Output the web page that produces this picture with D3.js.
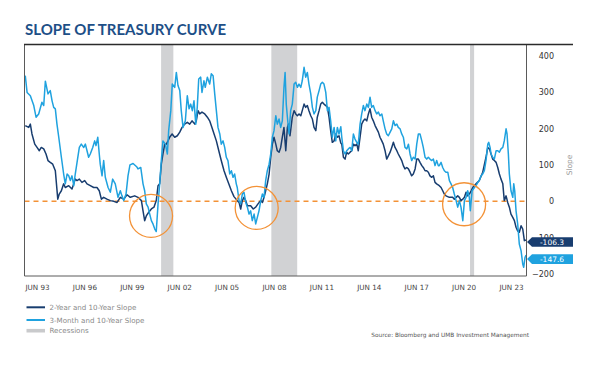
<!DOCTYPE html>
<html><head><meta charset="utf-8">
<script src="https://cdn.jsdelivr.net/npm/d3@7"></script>
<style>body{margin:0;background:#fff}svg{display:block}</style>
</head><body>
<svg id="chart" width="600" height="367"></svg>
<script>
const title = "SLOPE OF TREASURY CURVE";
const xTickLabels = ["JUN 93","JUN 96","JUN 99","JUN 02","JUN 05","JUN 08","JUN 11","JUN 14","JUN 17","JUN 20","JUN 23"];
const yTicks = [-200,-100,0,100,200,300,400];
const yAxisTitle = "Slope";
const seriesNames = ["2-Year and 10-Year Slope","3-Month and 10-Year Slope"];
const recessionLabel = "Recessions";
const recessionStarts = ["2001-03","2007-12","2020-02"];
const recessionEnds = ["2001-11","2009-06","2020-04"];
const sourceText = "Source: Bloomberg and UMB Investment Management";

// 2-Year and 10-Year slope (bps), dates as decimal years
const years2y10y = [1992.85,1993.06,1993.16,1993.26,1993.43,1993.57,1993.71,1993.83,1993.98,1994.12,1994.24,1994.38,1994.53,1994.69,1994.84,1994.93,1995.06,1995.20,1995.30,1995.51,1995.71,1995.91,1996.02,1996.16,1996.32,1996.49,1996.63,1996.83,1997.04,1997.24,1997.38,1997.51,1997.65,1997.85,1998.06,1998.27,1998.47,1998.67,1998.88,1999.08,1999.28,1999.55,1999.75,1999.96,2000.06,2000.16,2000.26,2000.41,2000.57,2000.73,2000.87,2000.98,2001.08,2001.18,2001.28,2001.39,2001.49,2001.59,2001.69,2001.84,2002.00,2002.16,2002.31,2002.45,2002.61,2002.77,2002.92,2003.06,2003.23,2003.32,2003.43,2003.53,2003.67,2003.84,2004.00,2004.14,2004.28,2004.41,2004.55,2004.70,2004.85,2005.02,2005.16,2005.31,2005.47,2005.63,2005.83,2005.94,2006.04,2006.14,2006.24,2006.35,2006.45,2006.65,2006.81,2006.96,2007.10,2007.27,2007.37,2007.47,2007.57,2007.67,2007.78,2007.88,2007.98,2008.08,2008.19,2008.28,2008.39,2008.49,2008.59,2008.69,2008.80,2008.90,2008.96,2009.06,2009.20,2009.31,2009.41,2009.51,2009.61,2009.72,2009.81,2009.92,2010.02,2010.12,2010.22,2010.33,2010.43,2010.53,2010.64,2010.73,2010.84,2010.94,2011.04,2011.14,2011.25,2011.35,2011.45,2011.55,2011.65,2011.76,2011.86,2011.96,2012.06,2012.17,2012.23,2012.33,2012.43,2012.53,2012.63,2012.74,2012.84,2012.94,2013.04,2013.15,2013.24,2013.35,2013.45,2013.55,2013.65,2013.76,2013.86,2013.96,2014.06,2014.16,2014.27,2014.37,2014.47,2014.57,2014.68,2014.77,2014.88,2014.98,2015.08,2015.19,2015.29,2015.39,2015.49,2015.60,2015.69,2015.80,2015.90,2016.00,2016.10,2016.21,2016.31,2016.41,2016.51,2016.61,2016.72,2016.82,2016.92,2017.02,2017.13,2017.22,2017.33,2017.43,2017.53,2017.63,2017.74,2017.84,2017.94,2018.04,2018.20,2018.31,2018.41,2018.51,2018.61,2018.82,2019.02,2019.12,2019.23,2019.33,2019.43,2019.53,2019.64,2019.74,2019.84,2019.94,2020.04,2020.15,2020.25,2020.45,2020.65,2020.86,2021.06,2021.17,2021.27,2021.37,2021.47,2021.57,2021.68,2021.78,2021.88,2021.98,2022.09,2022.18,2022.29,2022.39,2022.49,2022.59,2022.70,2022.80,2022.90,2023.00,2023.10,2023.21,2023.31,2023.41,2023.51];
const slope2y10y = [208,203,212,185,157,148,139,148,144,130,112,107,102,84,6,20,29,48,38,43,34,61,57,61,52,57,48,43,38,38,29,6,11,6,2,0,-3,11,6,18,11,15,11,2,-26,-53,-40,-30,-21,-16,2,43,48,102,130,157,157,166,176,185,176,180,190,203,212,217,212,221,212,221,249,240,245,240,231,221,203,185,166,139,112,84,66,48,29,13,2,-3,-21,2,11,2,-12,-12,-21,-16,-7,2,-3,11,29,48,75,121,157,176,157,139,135,148,176,203,139,203,212,180,231,249,240,235,240,235,249,267,258,263,249,235,226,203,194,231,249,267,272,267,263,258,231,194,162,166,185,176,180,160,157,121,116,135,130,135,139,157,153,157,139,176,212,221,226,221,240,254,231,221,208,199,190,176,166,157,139,116,125,135,148,162,148,139,130,121,112,98,89,93,89,80,70,75,89,116,116,107,98,93,84,84,80,70,66,70,52,48,43,38,29,20,15,11,11,6,11,15,11,2,6,11,25,15,20,29,38,48,57,80,121,148,144,130,116,112,107,93,75,61,48,2,15,-3,-16,-35,-44,-53,-71,-81,-85,-67,-76,-108,-106.3];

// 3-Month and 10-Year slope (bps)
const years3m10y = [1992.85,1992.96,1993.16,1993.37,1993.51,1993.67,1993.87,1993.98,1994.08,1994.24,1994.38,1994.49,1994.59,1994.69,1994.79,1994.90,1995.06,1995.20,1995.30,1995.41,1995.51,1995.61,1995.71,1995.82,1995.91,1996.02,1996.16,1996.28,1996.43,1996.53,1996.63,1996.73,1996.83,1996.98,1997.10,1997.18,1997.29,1997.38,1997.44,1997.55,1997.65,1997.75,1997.92,1998.06,1998.20,1998.36,1998.53,1998.67,1998.77,1998.88,1999.02,1999.14,1999.26,1999.45,1999.67,1999.75,1999.92,2000.06,2000.16,2000.26,2000.37,2000.47,2000.57,2000.67,2000.78,2000.87,2000.98,2001.08,2001.18,2001.28,2001.43,2001.55,2001.63,2001.76,2001.85,2002.00,2002.10,2002.20,2002.31,2002.40,2002.51,2002.65,2002.77,2002.88,2002.98,2003.08,2003.18,2003.29,2003.38,2003.47,2003.59,2003.67,2003.79,2003.87,2004.00,2004.14,2004.24,2004.35,2004.45,2004.55,2004.65,2004.76,2004.85,2004.96,2005.06,2005.16,2005.26,2005.37,2005.47,2005.57,2005.67,2005.77,2005.83,2005.94,2006.04,2006.14,2006.24,2006.35,2006.45,2006.55,2006.65,2006.75,2006.86,2006.96,2007.06,2007.16,2007.27,2007.37,2007.47,2007.57,2007.67,2007.78,2007.88,2007.98,2008.08,2008.19,2008.28,2008.39,2008.49,2008.59,2008.69,2008.76,2008.83,2008.90,2009.00,2009.10,2009.20,2009.31,2009.41,2009.51,2009.61,2009.72,2009.81,2009.92,2010.02,2010.12,2010.22,2010.33,2010.43,2010.53,2010.64,2010.73,2010.84,2010.94,2011.04,2011.14,2011.25,2011.35,2011.45,2011.55,2011.65,2011.76,2011.86,2011.96,2012.06,2012.17,2012.23,2012.33,2012.43,2012.53,2012.63,2012.74,2012.84,2012.94,2013.04,2013.15,2013.24,2013.35,2013.45,2013.55,2013.65,2013.76,2013.86,2013.96,2014.06,2014.16,2014.27,2014.37,2014.47,2014.57,2014.68,2014.77,2014.88,2014.98,2015.08,2015.19,2015.29,2015.39,2015.49,2015.60,2015.69,2015.80,2015.90,2016.00,2016.10,2016.21,2016.31,2016.41,2016.51,2016.61,2016.72,2016.82,2016.92,2017.02,2017.13,2017.22,2017.33,2017.43,2017.53,2017.63,2017.74,2017.84,2017.94,2018.04,2018.14,2018.20,2018.31,2018.41,2018.51,2018.61,2018.72,2018.82,2018.92,2019.02,2019.12,2019.23,2019.33,2019.43,2019.53,2019.64,2019.74,2019.84,2019.94,2020.04,2020.10,2020.21,2020.35,2020.45,2020.56,2020.65,2020.76,2020.86,2020.96,2021.06,2021.17,2021.23,2021.31,2021.37,2021.47,2021.57,2021.68,2021.78,2021.88,2021.98,2022.09,2022.18,2022.29,2022.35,2022.43,2022.49,2022.59,2022.70,2022.76,2022.82,2022.90,2023.00,2023.10,2023.21,2023.31,2023.37,2023.45,2023.51];
const slope3m10y = [345,299,290,263,231,240,272,263,330,295,304,276,258,254,212,176,121,75,48,75,70,57,70,43,75,107,148,157,148,157,139,121,130,148,166,153,176,130,102,70,112,66,38,25,61,48,11,29,15,2,20,70,100,104,95,89,93,48,29,-7,-16,-35,-53,-62,-76,-83,-7,48,112,166,157,130,194,249,322,313,354,318,304,249,203,221,290,254,267,249,276,212,258,336,341,299,331,313,341,322,350,345,295,249,203,185,157,166,148,121,112,75,84,66,75,48,38,2,-7,20,25,-3,-16,-35,-26,-53,-35,-62,-44,-26,2,20,11,57,84,102,130,176,194,235,212,226,203,221,313,354,267,231,185,249,267,322,327,313,322,313,331,368,341,354,322,295,258,240,249,286,304,322,327,322,299,249,258,221,176,203,166,203,185,205,176,139,130,139,144,148,139,185,171,162,157,212,240,263,249,267,258,286,258,263,249,240,245,235,240,221,199,185,180,190,199,221,208,212,203,199,185,176,148,144,157,130,112,121,116,157,185,185,166,148,121,116,121,116,112,116,98,112,98,98,107,93,84,80,80,57,48,38,20,2,-16,2,-16,-53,2,11,29,11,-26,29,38,43,52,57,70,75,84,112,157,162,148,130,121,116,139,139,135,144,148,166,199,185,130,75,29,11,48,29,-26,-62,-117,-136,-172,-181,-154,-147.6];

const lastValues = [-106.3, -147.6];
const highlightYears = [2000.55, 2007.02, 2019.72];
const highlightValues = [-40, -18, -8];

const colors = {dark:"#183d6f", light:"#1fa2df", rec:"#d1d2d4", orange:"#f39237", title:"#1d4f87"};

const svg = d3.select("#chart");
const plotL = 24.5, plotR = 526.5, plotT = 44, plotB = 276;
const x = d3.scaleLinear().domain([1992.833, 2023.51]).range([25, 526]);
const y = d3.scaleLinear().domain([-205, 432]).range([plotB, plotT]);
const monthToYear = m => +m.slice(0,4) + (+m.slice(5,7) - 1) / 12;

// title
svg.append("text").attr("x", 25).attr("y", 35).text(title)
  .attr("font-family","Lato").attr("font-weight",700).attr("font-size",15).attr("fill",colors.title);

// recessions
svg.append("g").selectAll("rect").data(recessionStarts).join("rect")
  .attr("x", (d) => x(monthToYear(d)))
  .attr("width", (d,i) => x(monthToYear(recessionEnds[i]) + 1/12) - x(monthToYear(d)))
  .attr("y", plotT).attr("height", plotB - plotT).attr("fill", colors.rec);

// zero dashed line
svg.append("line").attr("x1", plotL).attr("x2", plotR).attr("y1", y(0)).attr("y2", y(0))
  .attr("stroke", colors.orange).attr("stroke-width", 1.5).attr("stroke-dasharray","5,4");

// lines
const line = d3.line().x(d => x(d[0])).y(d => y(d[1]));
const s1 = years2y10y.map((t,i) => [t, slope2y10y[i]]);
const s2 = years3m10y.map((t,i) => [t, slope3m10y[i]]);
svg.append("path").datum(s1).attr("d", line).attr("fill","none").attr("stroke",colors.dark).attr("stroke-width",1.5).attr("stroke-linejoin","round");
svg.append("path").datum(s2).attr("d", line).attr("fill","none").attr("stroke",colors.light).attr("stroke-width",1.5).attr("stroke-linejoin","round");

// highlight circles
svg.append("g").selectAll("circle").data(highlightYears).join("circle")
  .attr("cx", d => x(d)).attr("cy", (d,i) => y(highlightValues[i])).attr("r", 21.5)
  .attr("fill","none").attr("stroke", colors.orange).attr("stroke-width", 1.3);

// frame
const frame = svg.append("g").attr("stroke","#5a5a5a").attr("stroke-width",1);
frame.append("line").attr("x1",plotL).attr("x2",plotL).attr("y1",plotT).attr("y2",plotB);
frame.append("line").attr("x1",plotL).attr("x2",plotR).attr("y1",plotB).attr("y2",plotB);
frame.append("line").attr("x1",plotR).attr("x2",plotR).attr("y1",plotT).attr("y2",plotB);
svg.append("line").attr("x1",24).attr("x2",573).attr("y1",plotT+0.5).attr("y2",plotT+0.5).attr("stroke","#2b2b2b").attr("stroke-width",1.6);

// x axis labels
const xl = d3.scalePoint().domain(xTickLabels).range([37, 511]);
const gx = svg.append("g").attr("transform",`translate(0,${plotB})`).call(d3.axisBottom(xl).tickSize(0).tickPadding(9));
gx.select(".domain").remove();
gx.selectAll("text").attr("font-family","DejaVu Sans").attr("font-size",7.2).attr("fill","#444");

// y axis labels
const gy = svg.append("g").attr("transform",`translate(${plotR},0)`).call(d3.axisRight(y).tickValues(yTicks).tickSize(0));
gy.select(".domain").remove();
gy.selectAll("text").attr("x", 27.5).attr("text-anchor","end").attr("font-family","DejaVu Sans").attr("font-size",8).attr("fill","#333");

svg.append("text").attr("transform",`translate(572,${y(100)}) rotate(-90)`).attr("text-anchor","middle")
  .attr("font-family","DejaVu Sans").attr("font-size",7.5).attr("fill","#9a9a9a").text(yAxisTitle);

// end value labels
const labelOffsets = [2, 4];
const lbl = svg.append("g").selectAll("g").data(lastValues).join("g")
  .attr("transform", (d,i) => `translate(0,${y(d) + labelOffsets[i]})`);
lbl.append("path").attr("d","M527,0 L532,-4.8 L573,-4.8 L573,4.8 L532,4.8 Z")
  .attr("fill", (d,i) => i === 0 ? colors.dark : colors.light);
lbl.append("text").attr("x", 552).attr("y", 2.8).attr("text-anchor","middle")
  .attr("font-family","DejaVu Sans").attr("font-size",7.5).attr("fill","#fff").text(d => d.toFixed(1));

// legend
const legY = [307.3, 320, 330.7];
const leg = svg.append("g");
leg.append("line").attr("x1",26.5).attr("x2",45).attr("y1",legY[0]).attr("y2",legY[0]).attr("stroke",colors.dark).attr("stroke-width",2);
leg.append("line").attr("x1",26.5).attr("x2",45).attr("y1",legY[1]).attr("y2",legY[1]).attr("stroke",colors.light).attr("stroke-width",2);
leg.append("rect").attr("x",26.5).attr("width",18.5).attr("y",legY[2]-1.8).attr("height",3.6).attr("fill","#c9cacc");
[seriesNames[0], seriesNames[1], recessionLabel].forEach((t,i) => {
  leg.append("text").attr("x",49.5).attr("y",legY[i]+2.6).text(t)
    .attr("font-family","DejaVu Sans").attr("font-size",7.1).attr("fill","#8a8a8a");
});

// source
svg.append("text").attr("x",529).attr("y",337).attr("text-anchor","end").text(sourceText)
  .attr("font-family","DejaVu Sans").attr("font-size",5.8).attr("fill","#555");
</script>
</body></html>
